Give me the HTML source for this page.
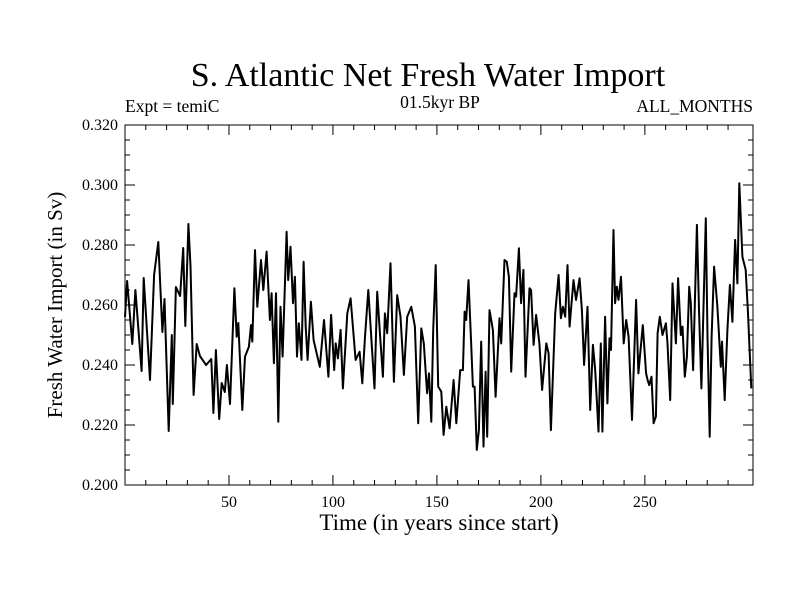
<!DOCTYPE html>
<html><head><meta charset="utf-8"><style>
body{margin:0;background:#fff;}
svg text{font-family:"Liberation Serif",serif;fill:#000;}
</style></head><body>
<svg id="chart" width="800" height="600" xmlns="http://www.w3.org/2000/svg">
<rect width="800" height="600" fill="#fff"/>
<text x="428" y="86" font-size="34" text-anchor="middle">S. Atlantic Net Fresh Water Import</text>
<text x="125" y="112" font-size="17.5">Expt = temiC</text>
<text x="440" y="108" font-size="17.5" text-anchor="middle">01.5kyr BP</text>
<text x="753" y="112" font-size="17.5" text-anchor="end">ALL_MONTHS</text>
<text transform="translate(62,305) rotate(-90)" font-size="21" text-anchor="middle">Fresh Water Import (in Sv)</text>
<text x="439" y="530" font-size="23" text-anchor="middle">Time (in years since start)</text>
<g id="axes"></g>
<path id="series" fill="none" stroke="#000" stroke-width="2" stroke-linejoin="round"/>
<rect x="125" y="125" width="628" height="360" fill="none" stroke="#000" stroke-width="1"/>
</svg>
<script>
const years=[0,1,3.5,5,8,9,12,14,16,18,19,21,22.5,23,24.5,26.5,28,29,30.5,31.5,33,34.5,36,39,41.5,42.5,43.7,45.3,46.5,48,49,
50.5,52.6,53.7,54.5,56.4,57.7,59.6,60.6,61.2,62.5,63.6,65.4,66.5,68.1,69.7,70.5,71.6,72.6,73.7,74.8,75.8,77.7,78.5,79.6,80.8,81.7,82.7,83.6,84.9,85.9,86.9,87.8,89.4,90.7,93.7,95.7,97.8,99.1,
100.6,101.3,102.4,103.7,104.8,106.9,108.5,110.9,112.8,114.1,115.4,117.0,118.1,120.0,121.3,122.9,124.0,125.0,126.1,127.7,129.3,130.9,132.5,134.1,135.7,137.7,139.4,141.0,142.5,143.7,145.3,146.2,147.3,148.2,149.4,
150.6,152.1,153.2,154.5,156.1,158.0,159.3,161.2,162.5,163.3,164.1,165.2,166.2,167.3,168.1,169.2,170.2,171.3,172.4,173.4,174.2,175.3,176.9,178.2,180.1,180.9,182.5,183.6,184.6,185.7,187.3,188.1,189.4,190.5,191.6,192.6,194.5,195.3,196.5,197.7,199.3,200.6,
202.6,203.7,204.8,206.9,208.5,209.6,210.6,211.7,212.8,213.8,215.7,216.9,218.6,219.7,220.8,222.4,223.7,225.0,226.1,227.7,228.8,229.6,230.9,232.0,233.0,233.7,234.9,235.7,236.5,237.3,238.5,239.8,241.0,242.2,243.8,245.8,246.9,249.0,250.6,
251.3,252.1,253.2,254.2,255.3,256.1,257.2,258.5,260.1,260.9,262.2,263.3,264.9,266.0,267.3,268.1,269.2,270.2,271.3,272.1,273.2,275.0,276.1,277.2,279.3,280.1,281.2,282.1,283.3,284.9,286.5,287.1,288.4,289.7,290.9,292.1,293.4,294.5,295.4,296.9,298.5,299.6,301.2];
const values=[.256,.268,.247,.265,.238,.269,.235,.270,.281,.251,.262,.218,.250,.227,.266,.263,.279,.253,.287,.273,.230,.247,.243,.240,.242,.224,.245,.222,.234,.231,.240,
.227,.2656,.2494,.254,.225,.2428,.2461,.2533,.2478,.2783,.2594,.275,.265,.2778,.255,.2639,.2406,.2639,.2211,.2594,.2428,.2844,.2683,.2794,.2606,.2694,.2428,.2539,.2417,.2744,.2528,.2417,.2611,.2483,.2394,.255,.2361,.2567,
.2383,.2472,.2422,.2517,.2322,.2572,.2622,.2417,.2444,.2339,.2494,.2650,.2528,.2322,.2644,.2472,.2361,.2572,.2506,.2739,.2344,.2633,.2561,.2367,.2561,.2594,.2528,.2206,.2522,.2472,.2306,.2372,.2211,.2517,.2733,
.2328,.2311,.2167,.2261,.2189,.235,.2206,.2383,.2383,.2578,.255,.2683,.2517,.2328,.2328,.2117,.2183,.2478,.2128,.2378,.2161,.2583,.2517,.2294,.2556,.2472,.275,.2744,.2694,.2378,.2639,.2628,.2789,.2606,.2717,.2361,.2656,.265,.2467,.2567,.2472,.2317,
.2472,.2439,.2183,.2572,.27,.2556,.2594,.2561,.2733,.2528,.2683,.2617,.2689,.2583,.24,.2594,.225,.2467,.2383,.2178,.2472,.2178,.2561,.2272,.2489,.245,.285,.2606,.2661,.2617,.2694,.2472,.255,.2494,.2217,.2617,.2372,.2533,.2372,
.235,.2333,.2361,.2206,.2228,.2506,.2561,.25,.2539,.2472,.2283,.2672,.2472,.2689,.25,.2528,.2361,.2428,.2661,.2606,.2383,.2867,.2572,.2322,.2889,.2494,.2161,.2494,.2728,.2594,.2394,.2478,.2283,.2517,.2667,.2544,.2817,.2672,.3006,.2761,.2717,.2572,.2322];
const yTicks=[0.200,0.220,0.240,0.260,0.280,0.300,0.320];
const yTickLabels=["0.200","0.220","0.240","0.260","0.280","0.300","0.320"];
const xTicks=[50,100,150,200,250];
const xTickLabels=["50","100","150","200","250"];
const X0=125,X1=753,Y0=485,Y1=125,XMIN=0,XMAX=302,YMIN=0.2,YMAX=0.32;
function sx(v){return X0+(v-XMIN)/(XMAX-XMIN)*(X1-X0);}
function sy(v){return Y0-(v-YMIN)/(YMAX-YMIN)*(Y0-Y1);}
const NS="http://www.w3.org/2000/svg";
const ax=document.getElementById('axes');
function line(x1,y1,x2,y2,name){const l=document.createElementNS(NS,'line');l.setAttribute('x1',x1);l.setAttribute('y1',y1);l.setAttribute('x2',x2);l.setAttribute('y2',y2);l.setAttribute('stroke','#000');l.setAttribute('stroke-width','1');


ax.appendChild(l);}
function text(x,y,s,anchor,name){const t=document.createElementNS(NS,'text');t.setAttribute('x',x);t.setAttribute('y',y);t.setAttribute('font-size','16');t.setAttribute('text-anchor',anchor);t.textContent=s;


ax.appendChild(t);}
yTicks.forEach((v,i)=>{const y=sy(v);line(X0,y,X0+10,y,'y-tick');line(X1,y,X1-10,y,'y-tick-right');text(X0-7,y+5,yTickLabels[i],'end','y-tick-label');});
for(let v=0.205;v<0.32;v+=0.005){if(Math.abs((v*1000)%20)<0.5||Math.abs((v*1000)%20-20)<0.5)continue;const y=sy(v);line(X0,y,X0+5,y,'y-minor-tick');line(X1,y,X1-5,y,'y-minor-tick-right');}
xTicks.forEach((v,i)=>{const x=sx(v);line(x,Y0,x,Y0-10,'x-tick');line(x,Y1,x,Y1+10,'x-tick-top');text(x,Y0+22,xTickLabels[i],'middle','x-tick-label');});
for(let v=10;v<XMAX;v+=10){if(v%50===0)continue;const x=sx(v);line(x,Y0,x,Y0-5,'x-minor-tick');line(x,Y1,x,Y1+5,'x-minor-tick-top');}
let d='';years.forEach((t,i)=>{d+=(i?'L':'M')+sx(t).toFixed(1)+','+sy(values[i]).toFixed(1);});
document.getElementById('series').setAttribute('d',d);
</script>
</body></html>
